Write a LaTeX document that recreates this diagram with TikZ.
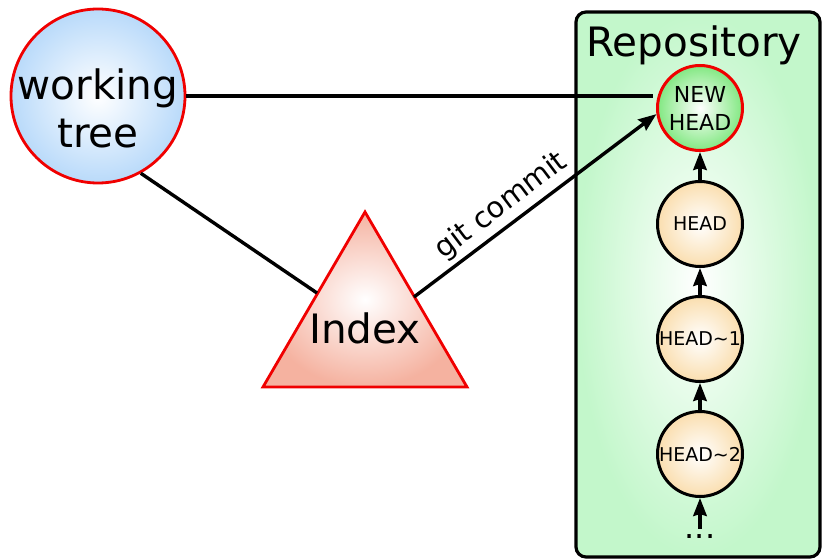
\documentclass[tikz,border=0pt]{standalone}
\usepackage{fontspec}
\setmainfont{DejaVu Sans}
\usetikzlibrary{arrows.meta}
\definecolor{wtblue}{RGB}{185,218,250}
\definecolor{repogreen}{RGB}{195,247,203}
\definecolor{nhgreen}{RGB}{130,232,130}
\definecolor{commitorange}{RGB}{250,222,175}
\definecolor{idxred}{RGB}{245,178,160}
\definecolor{bordred}{RGB}{240,0,0}
\begin{document}
\begin{tikzpicture}[x=1pt,y=-1pt,
  conn/.style={line width=3.4pt},
  arr/.style={conn,-{Stealth[length=18pt,width=13.5pt,inset=2pt]}},
  commit/.style={circle,draw,line width=3pt,minimum size=85pt,inner sep=0pt,
    inner color=white,outer color=commitorange,font=\fontsize{19}{22}\selectfont},
  newhead/.style={commit,draw=bordred,outer color=nhgreen,align=center,
    font=\fontsize{22}{28}\selectfont},
  wtree/.style={circle,draw=bordred,line width=2.8pt,minimum size=174pt,inner sep=0pt,
    inner color=white,outer color=wtblue},
  bigtext/.style={font=\fontsize{40.5}{48}\selectfont},
]
\useasboundingbox (0,0) rectangle (822,559);
% repository box
\shade[draw,line width=3.2pt,rounded corners=10pt,inner color=white,outer color=repogreen]
  (576,12) rectangle (820,557);
\node[anchor=base,bigtext] (repo) at (694,57) {Repository};
% index triangle
\shade[draw=bordred,line width=2.8pt,inner color=white,outer color=idxred]
  (365,212) -- (467,387) -- (263,387) -- cycle;
\node[bigtext] (index) at (365,328) {Index};
\coordinate (idxL) at (317,293);
\coordinate (idxR) at (414,297);
% working tree
\node[wtree] (wt) at (98,96) {};
\node[bigtext,align=center] (wtl) at (98,108) {working\\tree};
% commits
\node[newhead] (nh) at (700,108) {NEW\\HEAD};
\node[commit] (h0) at (700,224) {HEAD};
\node[commit] (h1) at (700,339) {HEAD\textasciitilde1};
\node[commit] (h2) at (700,454) {HEAD\textasciitilde2};
\node[font=\fontsize{32}{36}\selectfont,inner sep=2pt] (dots) at (700,537) {...};
% connectors
\draw[conn,shorten >=3pt] (wt.east) -- (wt.east -| nh.west);
\draw[conn] (wt.-61) -- (idxL);
\draw[arr] (idxR) -- node[sloped,above=1pt,pos=0.41,font=\fontsize{29}{32}\selectfont] (gc) {git commit} (nh.188);
\draw[arr] (h0) -- (nh);
\draw[arr] (h1) -- (h0);
\draw[arr] (h2) -- (h1);
\draw[arr,shorten <=4pt] (dots) -- (h2);
\end{tikzpicture}
\end{document}
